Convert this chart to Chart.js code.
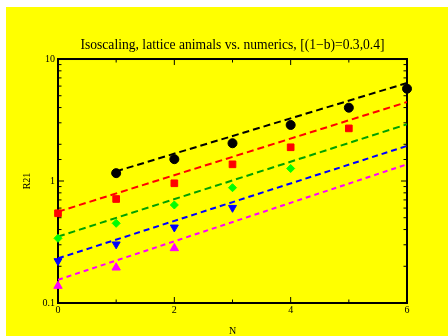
<!DOCTYPE html>
<html>
<head>
<meta charset="utf-8">
<script src="https://cdn.jsdelivr.net/npm/chart.js@4.4.1/dist/chart.umd.min.js"></script>
<style>
  html, body { margin: 0; padding: 0; background: #ffffff; }
  #wrap { width: 448px; height: 336px; position: relative; overflow: hidden; }
  #chart { position: absolute; left: 6px; top: 7px; }
</style>
</head>
<body>
<div id="wrap"><canvas id="chart" width="442" height="329"></canvas></div>
<script>
// values
var N = [0, 1, 2, 3, 4, 5, 6];
var black = [null, 1.16, 1.51, 2.04, 2.88, 3.99, 5.71];
var red = [0.544, 0.712, 0.958, 1.37, 1.89, 2.70, null];
var green = [0.339, 0.450, 0.636, 0.881, 1.266, null, null];
var blue = [0.221, 0.303, 0.417, 0.604, null, null, null];
var magenta = [0.138, 0.195, 0.281, null, null, null, null];

// dashed fit lines (end points)
var fitN = [0, 6];
var blackFitN = [1, 6];
var blackFit = [1.20, 6.36];
var redFit = [0.560, 4.44];
var greenFit = [0.350, 2.92];
var blueFit = [0.232, 1.94];
var magentaFit = [0.155, 1.37];

var yTickLabels = ['0.1', '1', '10'];
var xTickStep = 2;

function pts(xs, ys) {
  var out = [];
  for (var i = 0; i < xs.length; i++) {
    if (ys[i] != null) out.push({ x: xs[i], y: ys[i] });
  }
  return out;
}

function markers(data, color, style, radius, rotation) {
  return {
    data: pts(N, data),
    showLine: false,
    clip: false,
    pointStyle: style,
    pointRadius: radius,
    pointRotation: rotation || 0,
    pointBackgroundColor: color,
    pointBorderColor: color,
    pointBorderWidth: 1
  };
}

function fitLine(xs, ys, color, dash) {
  return {
    data: pts(xs, ys),
    showLine: true,
    pointRadius: 0,
    borderColor: color,
    borderWidth: 2,
    borderDash: dash,
    fill: false
  };
}

// yellow page + frame + inward ticks on all four sides
var framePlugin = {
  id: 'frame',
  beforeDraw: function (chart) {
    var ctx = chart.ctx;
    ctx.save();
    ctx.fillStyle = '#ffff00';
    ctx.fillRect(0, 0, chart.width, chart.height);
    ctx.restore();
  },
  beforeDatasetsDraw: function (chart) {
    var ctx = chart.ctx, a = chart.chartArea;
    var xs = chart.scales.x, ys = chart.scales.y;
    ctx.save();
    ctx.strokeStyle = '#000000';
    ctx.lineWidth = 1;
    ctx.beginPath();
    for (var v = xs.min; v <= xs.max; v++) {
      var px = xs.getPixelForValue(v);
      var len = (v % xTickStep === 0) ? 6 : 3.5;
      ctx.moveTo(px, a.bottom); ctx.lineTo(px, a.bottom - len);
      ctx.moveTo(px, a.top); ctx.lineTo(px, a.top + len);
    }
    ys.ticks.forEach(function (t) {
      var py = ys.getPixelForValue(t.value);
      var lg = Math.log10(t.value);
      var len = Math.abs(lg - Math.round(lg)) < 1e-6 ? 6 : 3.5;
      ctx.moveTo(a.left, py); ctx.lineTo(a.left + len, py);
      ctx.moveTo(a.right, py); ctx.lineTo(a.right - len, py);
    });
    ctx.stroke();
    ctx.lineWidth = 2;
    ctx.strokeRect(a.left, a.top, a.right - a.left, a.bottom - a.top);
    ctx.restore();
  }
};

var ctx = document.getElementById('chart').getContext('2d');
var chart = new Chart(ctx, {
  type: 'scatter',
  data: {
    datasets: [
      markers(black, '#000000', 'circle', 4.5),
      markers(red, '#ff0000', 'rect', 4.7),
      markers(green, '#00ff00', 'rectRot', 4),
      markers(blue, '#0000ff', 'triangle', 4.6, 180),
      markers(magenta, '#ff00ff', 'triangle', 4.8),
      fitLine(blackFitN, blackFit, '#000000', [7, 4]),
      fitLine(fitN, redFit, '#ff0000', [7, 4]),
      fitLine(fitN, greenFit, '#00a000', [7, 4]),
      fitLine(fitN, blueFit, '#0000ff', [6, 4]),
      fitLine(fitN, magentaFit, '#ff00ff', [5, 4])
    ]
  },
  options: {
    responsive: false,
    animation: false,
    devicePixelRatio: 1,
    layout: { padding: { left: 0, right: 41, top: 0, bottom: 0 } },
    plugins: {
      legend: { display: false },
      tooltip: { enabled: false },
      title: {
        display: true,
        fullSize: false,
        text: 'Isoscaling, lattice animals vs. numerics, [(1\u2212b)=0.3,0.4]',
        color: '#000000',
        font: { family: 'Liberation Serif', size: 13.6, weight: 'normal' },
        padding: { top: 30, bottom: 5.7 }
      }
    },
    scales: {
      x: {
        type: 'linear',
        min: 0,
        max: 6,
        grid: { display: false, drawTicks: false },
        border: { display: false },
        ticks: {
          stepSize: xTickStep,
          padding: 1,
          color: '#000000',
          font: { family: 'Liberation Serif', size: 10 }
        },
        title: {
          display: true,
          text: 'N',
          color: '#000000',
          font: { family: 'Liberation Serif', size: 10, lineHeight: 1 },
          padding: { top: 0, bottom: 0 }
        },
        afterFit: function (s) { s.height = 33; }
      },
      y: {
        type: 'logarithmic',
        min: 0.1,
        max: 10,
        grid: { display: false, drawTicks: false },
        border: { display: false },
        ticks: {
          autoSkip: false,
          padding: 3,
          color: '#000000',
          font: { family: 'Liberation Serif', size: 10 },
          callback: function (v) {
            var lg = Math.log10(v);
            if (Math.abs(lg - Math.round(lg)) < 1e-6) return yTickLabels[Math.round(lg) + 1];
            return '';
          }
        },
        title: {
          display: true,
          text: 'R21',
          color: '#000000',
          font: { family: 'Liberation Serif', size: 10, lineHeight: 1 },
          padding: { top: 16, bottom: 0 }
        },
        afterFit: function (s) { s.width = 52; }
      }
    }
  },
  plugins: [framePlugin]
});
</script>
</body>
</html>
